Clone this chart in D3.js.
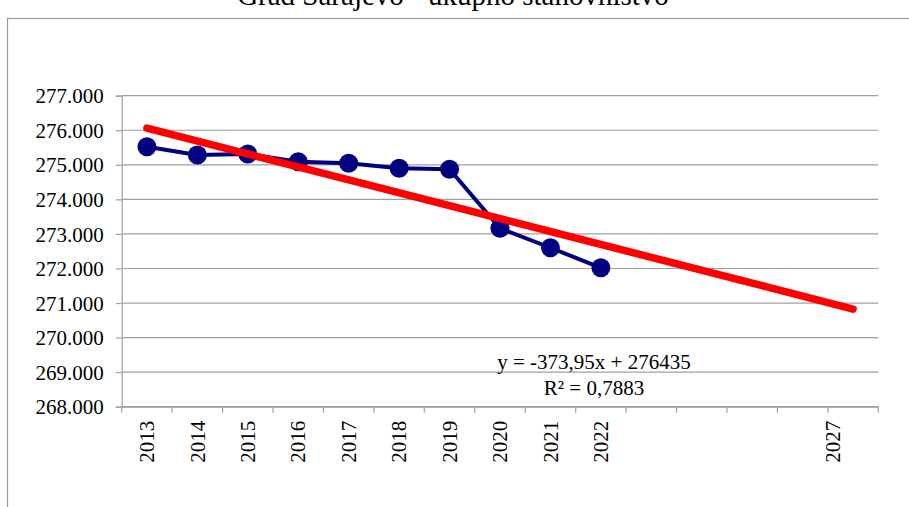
<!DOCTYPE html>
<html>
<head>
<meta charset="utf-8">
<script src="https://cdn.jsdelivr.net/npm/d3@7"></script>
<style>
  html, body { margin: 0; padding: 0; background: #fff; }
  svg { display: block; }
  svg text { font-family: "Liberation Serif", "Times New Roman", serif !important; fill: #000; }
</style>
</head>
<body>
<svg id="chart" width="909" height="507"></svg>
<script>
// ---- data ----
const title = "Grad Sarajevo - ukupno stanovništvo";
const categories = ["2013","2014","2015","2016","2017","2018","2019","2020","2021","2022","2023","2024","2025","2026","2027"];
const tickLabels = ["2013","2014","2015","2016","2017","2018","2019","2020","2021","2022","2027"];
const observedYears = ["2013","2014","2015","2016","2017","2018","2019","2020","2021","2022"];
const population = [275524, 275284, 275313, 275090, 275044, 274899, 274870, 273163, 272600, 272020];
const yTicks = [268000, 269000, 270000, 271000, 272000, 273000, 274000, 275000, 276000, 277000];
const trendSlope = -373.95;
const trendIntercept = 276435;
const trendYears = ["2013", "2027"];
const equationLines = ["y = -373,95x + 276435", "R² = 0,7883"];

// ---- layout ----
const W = 909, H = 507;
const plot = { left: 121.7, right: 878.3, top: 95.7, bottom: 406.7 };
const gridColor = "#a0a0a0";
const serif = "'Liberation Serif', 'Times New Roman', serif";

const svg = d3.select("#chart");
svg.append("rect").attr("width", W).attr("height", H).attr("fill", "#fff");

// outer chart border (cropped)
svg.append("rect")
  .attr("x", 7.5).attr("y", 18.5)
  .attr("width", 1000).attr("height", 600)
  .attr("fill", "none").attr("stroke", "#9a9a9a").attr("stroke-width", 1.2);

// title (cropped at top, as in the reference)
svg.append("text")
  .attr("x", 453).attr("y", 5)
  .attr("text-anchor", "middle")
  .style("font-family", serif)
  .attr("font-size", 29)
  .text(title);

const x = d3.scaleBand().domain(categories).range([plot.left, plot.right]);
const y = d3.scaleLinear().domain([268000, 277000]).range([plot.bottom, plot.top]);

const locale = d3.formatLocale({ decimal: ",", thousands: ".", grouping: [3], currency: ["", ""] });
const fmt = locale.format(",d");

// gridlines
svg.append("g")
  .selectAll("line")
  .data(yTicks)
  .join("line")
  .attr("x1", plot.left).attr("x2", plot.right)
  .attr("y1", d => y(d)).attr("y2", d => y(d))
  .attr("stroke", gridColor).attr("stroke-width", 1.2);

// y axis
const yAxis = svg.append("g")
  .attr("transform", `translate(${plot.left},0)`)
  .call(d3.axisLeft(y).tickValues(yTicks).tickFormat(fmt).tickSize(6).tickPadding(12));
yAxis.attr("font-family", null).attr("font-size", null);
yAxis.select(".domain").attr("stroke", gridColor).attr("stroke-width", 1.2);
yAxis.selectAll(".tick line").attr("stroke", gridColor).attr("stroke-width", 1.2);
yAxis.selectAll(".tick text")
  .style("font-family", serif)
  .style("font-size", "21px").attr("fill", "#000").attr("dy", "0.34em");

// x axis
const xAxis = svg.append("g")
  .attr("transform", `translate(0,${plot.bottom})`)
  .call(d3.axisBottom(x).tickSize(0).tickFormat(d => tickLabels.includes(d) ? d : ""));
xAxis.attr("font-family", null).attr("font-size", null);
xAxis.select(".domain").attr("stroke", gridColor).attr("stroke-width", 1.2);
xAxis.selectAll(".tick text")
  .style("font-family", serif)
  .style("font-size", "21px").attr("fill", "#000")
  .attr("text-anchor", "end")
  .attr("transform", "rotate(-90)")
  .attr("x", -14).attr("y", 0)
  .attr("dy", d => d === "2027" ? "-0.62em" : "0.34em");

// x tick marks at band boundaries
const boundaries = categories.map(c => x(c)).concat([x(categories[categories.length - 1]) + x.bandwidth()]);
svg.append("g")
  .selectAll("line")
  .data(boundaries)
  .join("line")
  .attr("x1", d => d).attr("x2", d => d)
  .attr("y1", plot.bottom).attr("y2", plot.bottom + 6)
  .attr("stroke", gridColor).attr("stroke-width", 1.2);

const cx = d => x(d) + x.bandwidth() / 2;

// trend line points from the chart's regression equation
const trendPts = trendYears.map(yr => {
  const idx = categories.indexOf(yr) + 1;
  return [cx(yr), y(trendSlope * idx + trendIntercept)];
});

// data line
const pts = observedYears.map((yr, i) => [cx(yr), y(population[i])]);
svg.append("path")
  .attr("d", d3.line()(pts))
  .attr("fill", "none").attr("stroke", "#000080").attr("stroke-width", 4)
  .attr("stroke-linejoin", "round");
svg.append("g")
  .selectAll("circle")
  .data(pts)
  .join("circle")
  .attr("cx", d => d[0]).attr("cy", d => d[1]).attr("r", 9.5)
  .attr("fill", "#000080");

svg.append("path")
  .attr("d", d3.line()(trendPts))
  .attr("fill", "none").attr("stroke", "#ff0000").attr("stroke-width", 7.5)
  .attr("stroke-linecap", "round");

// equation label
svg.append("g")
  .selectAll("text")
  .data(equationLines)
  .join("text")
  .attr("x", 594).attr("y", (d, i) => 369 + i * 25.5)
  .attr("text-anchor", "middle")
  .style("font-family", serif)
  .attr("font-size", 21)
  .text(d => d);
</script>
</body>
</html>
